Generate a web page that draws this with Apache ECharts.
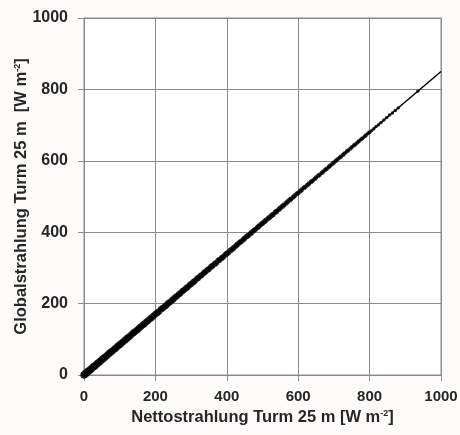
<!DOCTYPE html>
<html><head><meta charset="utf-8">
<script src="https://cdn.jsdelivr.net/npm/echarts@6/dist/echarts.min.js"></script>
<style>html,body{margin:0;padding:0;background:#fdfcfa}#c{width:460px;height:435px}</style>
</head><body><div id="c"></div>
<script>
// Tick labels
const xTicks = [0, 200, 400, 600, 800, 1000];
const yTicks = [0, 200, 400, 600, 800, 1000];
// Dense observations (Nettostrahlung, Globalstrahlung)
const obsX = [0,3,6,10,14,18,22,27,31,36,40,45,50,55,60,65,70,75,80,86,90,95,100,105,110,116,120,125,130,136,140,145,150,155,160,166,170,175,180,186,190,195,200,205,210,216,220,226,230,235,240,246,250,255,260,266,270,276,280,286,290,296,300,306,310,316,320,326,330,336,340,346,350,356,360,366,370,376,380,386,390,396,400,
  404,410,416,420,426,430,436,440,446,450,456,460,466,470,476,480,486,490,496,500,506,510,516,520,526,530,536,540,546,550,556,560,566,570,576,580,586,590,596,600,606,610,616,620,626,630,636,640,646,650,656,660,666,670,676,680,686,690,696,700,706,710,716,720,726,730,736,740,746,750,756,760,766,770,776,780,786,790,796,800];
const obsY = [0,3,5,9,12,15,19,23,26,31,34,38,43,47,51,55,60,64,68,73,76,81,85,89,94,98,102,106,110,116,119,123,127,132,136,141,144,149,153,158,161,166,170,174,178,184,187,192,195,200,204,209,212,217,221,226,229,235,238,243,246,252,255,260,263,269,272,277,280,286,289,294,297,303,306,311,314,320,323,328,331,337,340,
  343,349,353,357,362,366,371,374,379,383,388,391,396,400,405,408,413,417,422,425,430,434,439,442,447,450,456,459,464,468,473,476,481,485,490,493,498,502,507,510,515,519,524,527,532,536,541,544,549,553,558,561,566,570,575,578,583,587,592,595,600,604,609,612,617,621,626,629,634,638,643,646,651,655,660,663,668,672,677,680];
// Sparse observations at the high end
const hiX = [806,812,818,825,832,840,848,856,864,872,880,935];
const hiY = [685,690,696,701,707,714,721,728,734,741,748,795];
// Regression line end points
const fitX = [0, 1000];
const fitY = [0, 850];

const zip = (a, b) => a.map((v, i) => [v, b[i]]);
const gridColor = '#8a8a8a';
const FF = 'Liberation Sans, Arial, sans-serif';
const nameRich = {
  a: { fontSize: 16.5, fontWeight: 'bold', color: '#262626', fontFamily: FF },
  s: { fontSize: 9, fontWeight: 'bold', color: '#262626', fontFamily: FF, verticalAlign: 'top', padding: [0, 0, 7, 0] }
};
const chart = echarts.init(document.getElementById('c'));
chart.setOption({
  animation: false,
  backgroundColor: '#fdfcfa',
  grid: { left: 84, right: 19, top: 18, bottom: 60, containLabel: false, outerBoundsMode: 'none', show: true, backgroundColor: '#ffffff', borderColor: gridColor, borderWidth: 1 },
  xAxis: {
    type: 'value', min: xTicks[0], max: xTicks[xTicks.length - 1], interval: 200,
    name: '{a|Nettostrahlung Turm 25 m [W m}{s|-2}{a|]}',
    nameLocation: 'middle', nameGap: 34, nameMoveOverlap: false,
    nameTextStyle: { rich: nameRich },
    axisLine: { lineStyle: { color: gridColor } },
    axisTick: { show: true, length: 6, lineStyle: { color: gridColor } },
    axisLabel: { margin: 14, color: '#262626', fontSize: 15, fontWeight: 'bold', fontFamily: FF, formatter: v => String(v) },
    splitLine: { lineStyle: { color: gridColor, width: 1 } }
  },
  yAxis: {
    type: 'value', min: yTicks[0], max: yTicks[yTicks.length - 1], interval: 200,
    name: '{a|Globalstrahlung Turm 25 m  [W m}{s|-2}{a|]}',
    nameLocation: 'middle', nameGap: 54, nameRotate: 90, nameMoveOverlap: false,
    nameTextStyle: { rich: nameRich },
    axisLine: { lineStyle: { color: gridColor } },
    axisTick: { show: true, length: 6, lineStyle: { color: gridColor } },
    axisLabel: { margin: 16, color: '#262626', fontSize: 16, fontWeight: 'bold', fontFamily: FF, formatter: v => String(v) },
    splitLine: { lineStyle: { color: gridColor, width: 1 } }
  },
  series: [
    { type: 'line', data: zip(fitX, fitY), symbol: 'none', lineStyle: { color: '#000', width: 1.5 }, z: 3 },
    { type: 'scatter', data: zip(obsX, obsY), symbol: 'circle', symbolSize: v => 7.5 - v[0] / 230, itemStyle: { color: '#000' }, z: 4 },
    { type: 'scatter', data: zip(hiX, hiY), symbol: 'circle', symbolSize: 3.5, itemStyle: { color: '#000' }, z: 4 }
  ]
});
</script></body></html>
